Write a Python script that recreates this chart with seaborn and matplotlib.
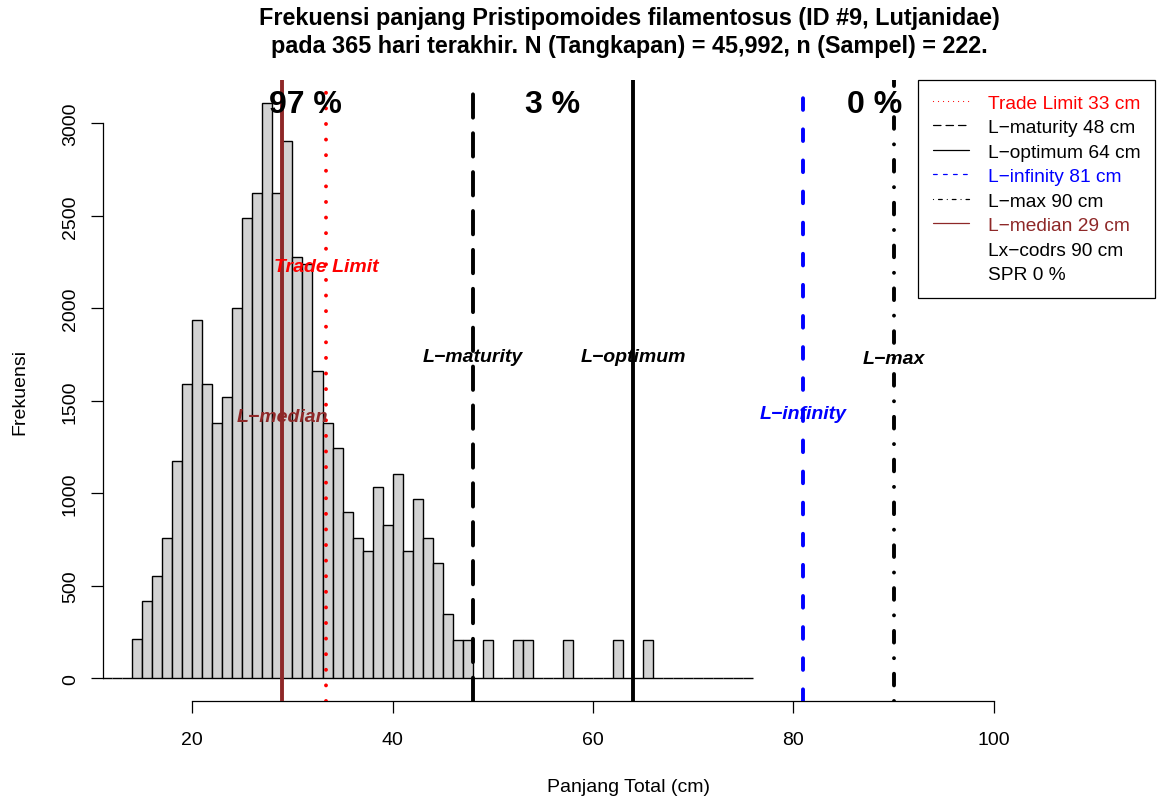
import numpy as np
import pandas as pd
import matplotlib
matplotlib.use("Agg")
import matplotlib.pyplot as plt
from matplotlib import font_manager
from matplotlib.lines import Line2D
import seaborn as sns

# Length-frequency of the catch, 1 cm bins (left edges), raised to total catch
bin_left_cm = list(range(11, 76))
catch_freq = [
    0, 0, 0, 210, 417, 553, 761, 1175, 1590, 1938,        # 11-20
    1590, 1382, 1521, 2004, 2487, 2626, 3111, 2626, 2904, 2280,  # 21-30
    2240, 1660, 1382, 1244, 899, 760, 690, 1036, 830, 1106,      # 31-40
    690, 967, 760, 625, 345, 207, 207, 0, 207, 0,                # 41-50
    0, 207, 207, 0, 0, 0, 207, 0, 0, 0,                          # 51-60
    0, 207, 0, 0, 207, 0, 0, 0, 0, 0,                            # 61-70
    0, 0, 0, 0, 0,                                               # 71-75
]

# Reference lengths (cm)
ref_names = ["Trade Limit", "L\u2212maturity", "L\u2212optimum", "L\u2212infinity", "L\u2212max", "L\u2212median"]
ref_values = [33.35, 48, 64, 81, 90, 29]
ref_colors = ["#FF0000", "#000000", "#000000", "#0000FF", "#000000", "#8E2828"]
lx_codrs = 90
spr_pct = 0

# Share of the catch in each length class
pct_labels = ["97 %", "3 %", "0 %"]

title_text = ("Frekuensi panjang Pristipomoides filamentosus (ID #9, Lutjanidae)\n"
              "pada 365 hari terakhir. N (Tangkapan) = 45,992, n (Sampel) = 222.")

sns.set_style("white")
plt.rcParams["font.family"] = ["Liberation Sans", "DejaVu Sans"]
plt.rcParams["text.color"] = "black"
plt.rcParams["axes.labelcolor"] = "black"
plt.rcParams["xtick.color"] = "black"
plt.rcParams["ytick.color"] = "black"

installed = {f.name for f in font_manager.fontManager.ttflist}
narrow = "Liberation Sans Narrow" if "Liberation Sans Narrow" in installed else "Liberation Sans"

df = pd.DataFrame({"mid": np.array(bin_left_cm) + 0.5, "freq": catch_freq})

fig = plt.figure(figsize=(11.61, 8.03), dpi=100)
ax = fig.add_axes([0.08898, 0.12540, 0.90543, 0.77397])

sns.histplot(data=df, x="mid", weights="freq", binwidth=1,
             binrange=(bin_left_cm[0], bin_left_cm[-1] + 1), stat="count",
             color="#D3D3D3", edgecolor="black", linewidth=1.0, alpha=1,
             ax=ax)

# Reference lines (styles in multiples of the line width, round caps)
styles = [(0, (0.01, 4)), (0, (6, 4)), "solid", (0, (3, 5)), (0, (0.01, 4, 3, 4)), "solid"]
for val, col, ls in zip(ref_values, ref_colors, styles):
    ax.axvline(val, color=col, linestyle=ls, linewidth=2.8,
               dash_capstyle="round", solid_capstyle="butt", zorder=3)

ax.set_xlim(11.12, 116.05)
ax.set_ylim(-124.4, 3235.4)

# Line labels
label_y = [2224, 1737, 1737, 1429, 1727, 1413]
for name, val, col, yy in zip(ref_names, ref_values, ref_colors, label_y):
    ax.text(val, yy, name, color=col, fontsize=14, fontweight="bold",
            fontstyle="italic", ha="center", va="center", zorder=5)

# Percent of catch per class
pct_x = [31.3, 56.0, 88.1]
for xx, lab in zip(pct_x, pct_labels):
    ax.text(xx, 3104, lab, fontsize=23, fontweight="bold", family=narrow,
            color="black", ha="center", va="center", zorder=5)

# Axes in base-graphics style
for s in ["top", "right"]:
    ax.spines[s].set_visible(False)
ax.spines["left"].set_bounds(0, 3000)
ax.spines["bottom"].set_bounds(20, 100)
for s in ["left", "bottom"]:
    ax.spines[s].set_color("black")
    ax.spines[s].set_linewidth(0.9)
ax.set_xticks([20, 40, 60, 80, 100])
ax.set_yticks([0, 500, 1000, 1500, 2000, 2500, 3000])
ax.tick_params(axis="both", which="major", direction="out", length=8.6,
               width=0.9, color="black", labelsize=14, labelcolor="black",
               bottom=True, left=True, top=False, right=False)
ax.tick_params(axis="x", pad=12.5)
ax.tick_params(axis="y", pad=9)
for t in ax.get_yticklabels():
    t.set_rotation(90)
    t.set_va("center")
ax.grid(False)

ax.set_xlabel("Panjang Total (cm)", fontsize=14, color="black")
ax.set_ylabel("Frekuensi", fontsize=14, color="black")
ax.xaxis.set_label_coords(0.5, -0.1363)
ax.xaxis.label.set_va("center")
ax.yaxis.set_label_coords(-0.0792, 0.5)
ax.yaxis.label.set_va("center")

ax.text(0.5, 1.0777, title_text, transform=ax.transAxes, ha="center",
        va="center", fontsize=16.8, fontweight="bold", family=narrow,
        color="black", linespacing=1.3)

# Legend (lengths shown rounded to whole cm)
handles = []
labels = []
legend_colors = []
for name, val, col, ls in zip(ref_names, ref_values, ref_colors, styles):
    handles.append(Line2D([0], [0], color=col, linestyle=ls, linewidth=0.9,
                          dash_capstyle="round"))
    labels.append(f"{name} {round(val)} cm")
    legend_colors.append(col)
handles.append(Line2D([0], [0], color="none"))
labels.append(f"Lx\u2212codrs {lx_codrs} cm")
legend_colors.append("black")
handles.append(Line2D([0], [0], color="none"))
labels.append(f"SPR {spr_pct} %")
legend_colors.append("black")

leg = ax.legend(handles, labels, loc="upper right", bbox_to_anchor=(1, 1),
                borderaxespad=0, fontsize=13.8, frameon=True, fancybox=False,
                edgecolor="black", framealpha=1, borderpad=0.75,
                handlelength=1.93, handletextpad=0.94, labelspacing=0.37)
leg.get_frame().set_linewidth(0.9)
for txt, col in zip(leg.get_texts(), legend_colors):
    txt.set_color(col)

fig.savefig("out.png", dpi=100)
